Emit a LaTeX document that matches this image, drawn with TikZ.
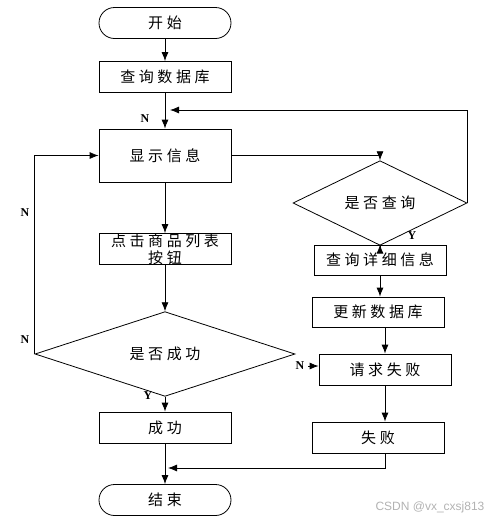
\documentclass[tikz,border=0pt]{standalone}
\usepackage{fontspec}
\setmainfont{Liberation Serif}
\setsansfont{Liberation Sans}
\newfontfamily\cjk{Noto Sans CJK SC}[LetterSpace=24]
\usetikzlibrary{positioning}
\usetikzlibrary{shapes.geometric}
\usetikzlibrary{arrows.meta}
\tikzset{
	block/.style={
		rectangle,
		draw,
		align=center,
		minimum width=132pt,
		minimum height=31pt,
		inner sep=0pt,
		font=\cjk\fontsize{15}{17}\selectfont
	},
	terminal/.style={block, rounded corners=15.5pt},
	decision/.style={
		diamond,
		draw,
		inner sep=0pt,
		font=\cjk\fontsize{15}{17}\selectfont
	},
	yn/.style={font=\bfseries\fontsize{12}{12}\selectfont},
	>={Latex[length=9pt,width=7pt]}
}

\begin{document}
\begin{tikzpicture}[x=1pt,y=-1pt,line width=0.8pt]
		\useasboundingbox (0,0) rectangle (500,523);
		\node[terminal] (Start) at (165,23) {开始};
		\node[block] (QueryDB) at (165,77) {查询数据库};
		\node[block, minimum height=53pt] (Show) at (165,155.5) {显示信息};
		\node[block] (Click) at (165,249) {点击商品列表\\按钮};
		\node[decision, minimum width=260pt, minimum height=52pt] (IsOk) at (165,354) {是否成功};
		\node[block] (Ok) at (165,427.5) {成功};
		\node[terminal] (End) at (165,500) {结束};
		\node[decision, minimum width=174pt, minimum height=51pt] (IsQuery) at (380,203) {是否查询};
		\node[block, minimum height=30pt] (Detail) at (380,260) {查询详细信息};
		\node[block, minimum height=30pt] (Update) at (378,312) {更新数据库};
		\node[block] (Request) at (385,369.5) {请求失败};
		\node[block] (Fail) at (378,437.5) {失败};
		\coordinate (BackIn) at (170,110);
		\coordinate (Merge) at (168,468);
		
		\draw [->] (Start) -- (QueryDB);
		\draw [->] (QueryDB) -- (Show);
		\draw [->] (Show) -- (Click);
		\draw [->] (Click) -- (IsOk);
		\draw [->] (IsOk) -- (Ok);
		\draw [->] (Ok) -- (End);
		\draw [->] (Show.east) -| (IsQuery.north);
		\draw [->] (IsQuery.east) |- (BackIn);
		\draw [->] (IsQuery) -- (Detail);
		\draw [->] (Detail.south) -- (Detail.south |- Update.north);
		\draw [->] (Request.north |- Update.south) -- (Request.north);
		\draw [->] (Request.south) -- (Request.south |- Fail.north);
		\draw [->] (Fail.south -| Request.south) |- (Merge);
		\draw [->] (IsOk.west) |- (Show.west);
		
		\node[yn] at (145,119) {N};
		\node[yn] at (412,236) {Y};
		\node[yn] at (148,396) {Y};
		\node[yn] at (25,213) {N};
		\node[yn] at (25,340) {N};
		\node[yn] (NoLabel) at (300,366) {N};
		\draw [->] (NoLabel) -- (NoLabel -| Request.west);
		
		\node[font=\sffamily\fontsize{12}{12}\selectfont, text=black!30] at (430,507) {CSDN @vx\_cxsj813};
	\end{tikzpicture}
\end{document}
